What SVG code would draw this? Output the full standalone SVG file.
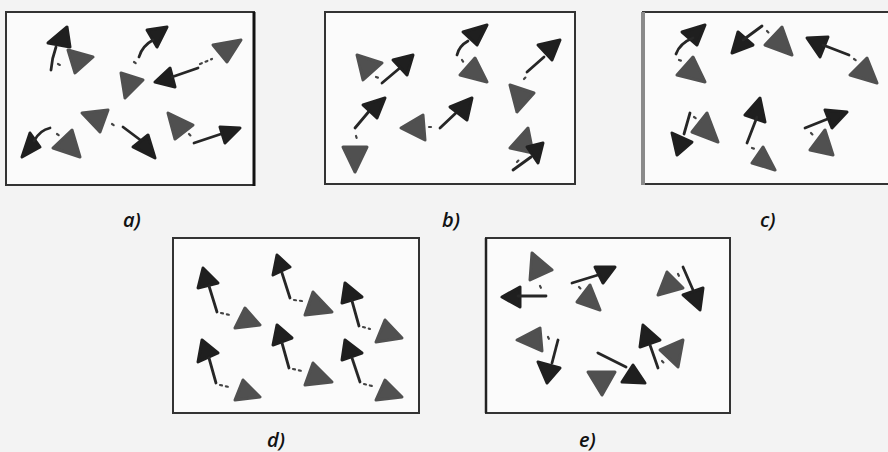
<svg xmlns="http://www.w3.org/2000/svg" width="888" height="452" viewBox="0 0 888 452">
<style>
.bg{fill:#f3f3f3}
.frame{fill:#fbfbfb;stroke:#333;stroke-width:2}
.dk{fill:#1f1f1f;stroke:#1f1f1f;stroke-width:3;stroke-linejoin:round}
.gr{fill:#505050;stroke:#505050;stroke-width:3;stroke-linejoin:round}
.ln{fill:none;stroke:#262626;stroke-width:2.8;stroke-linecap:round}
.dt{fill:none;stroke:#444;stroke-width:2.2;stroke-dasharray:2 4;stroke-linecap:round}
.lbl{font-family:"Open Sans","DejaVu Sans",sans-serif;font-style:italic;font-size:20px;font-weight:600;fill:#111}
</style>
<rect class="bg" x="0" y="0" width="888" height="452"/>

<g id="panel-a">
<rect class="frame" x="6" y="12" width="248" height="173"/>
<line x1="254" y1="12" x2="254" y2="186" stroke="#111" stroke-width="3"/>
<polygon class="dk" points="48,43 67,27 70,47"/>
<path class="ln" d="M56,47 Q52,58 51,70"/>
<path class="dt" d="M58,64 L62,66"/>
<polygon class="gr" points="68,50 93,57 75,73"/>
<polygon class="dk" points="147,30 167,27 157,47"/>
<path class="ln" d="M153,40 Q142,46 139,57"/>
<path class="dt" d="M134,62 L137,64"/>
<polygon class="gr" points="121,73 143,80 125,98"/>
<polygon class="gr" points="213,45 241,40 227,62"/>
<path class="dt" d="M200,64 L212,59"/>
<polygon class="dk" points="155,82 170,68 175,87"/>
<path class="ln" d="M172,77 L198,68"/>
<polygon class="gr" points="82,113 108,110 100,132"/>
<path class="dt" d="M112,124 L115,126"/>
<path class="ln" d="M123,127 L143,142"/>
<polygon class="dk" points="133,147 148,135 155,158"/>
<polygon class="dk" points="22,157 30,133 40,147"/>
<path class="ln" d="M50,128 Q40,130 34,141"/>
<path class="dt" d="M57,134 L60,136"/>
<polygon class="gr" points="53,148 72,130 80,157"/>
<polygon class="gr" points="168,113 193,125 175,139"/>
<path class="dt" d="M189,134 L191,136"/>
<path class="ln" d="M194,143 L224,133"/>
<polygon class="dk" points="220,127 240,128 225,143"/>
</g>

<g id="panel-b">
<rect class="frame" x="325" y="12" width="250" height="172"/>
<polygon class="gr" points="357,55 382,63 363,80"/>
<path class="dt" d="M376,77 L379,78"/>
<path class="ln" d="M382,83 L401,67"/>
<polygon class="dk" points="393,60 413,55 407,75"/>
<polygon class="dk" points="463,32 487,25 477,45"/>
<path class="ln" d="M468,41 Q459,46 457,55"/>
<path class="dt" d="M462,60 L464,63"/>
<polygon class="gr" points="460,75 475,58 487,82"/>
<path class="ln" d="M527,72 L544,57"/>
<polygon class="dk" points="538,45 560,40 552,60"/>
<path class="dt" d="M524,79 L526,77"/>
<polygon class="gr" points="510,85 534,93 517,112"/>
<path class="ln" d="M355,128 L371,109"/>
<polygon class="dk" points="363,105 385,98 377,118"/>
<path class="dt" d="M356,136 L357,139"/>
<polygon class="gr" points="343,147 367,147 355,172"/>
<polygon class="gr" points="401,128 423,115 425,140"/>
<path class="dt" d="M429,127 L432,127"/>
<path class="ln" d="M440,128 L458,111"/>
<polygon class="dk" points="450,107 472,98 467,120"/>
<polygon class="gr" points="510,148 528,128 533,153"/>
<polygon class="dk" points="527,147 543,143 538,163"/>
<path class="ln" d="M513,170 L531,157"/>
<path class="dt" d="M517,162 L519,160"/>
</g>

<g id="panel-c">
<rect class="frame" x="643" y="12" width="250" height="172"/>
<line x1="643" y1="12" x2="643" y2="185" stroke="#8a8a8a" stroke-width="4"/>
<polygon class="dk" points="682,32 705,25 697,45"/>
<path class="ln" d="M693,38 Q680,43 676,54"/>
<path class="dt" d="M679,60 L682,61"/>
<polygon class="gr" points="677,75 693,57 705,82"/>
<polygon class="dk" points="732,53 738,32 753,45"/>
<path class="ln" d="M743,40 L762,26"/>
<path class="dt" d="M767,31 L770,34"/>
<polygon class="gr" points="765,45 782,27 792,55"/>
<polygon class="dk" points="807,38 828,37 820,57"/>
<path class="ln" d="M823,45 L849,55"/>
<path class="dt" d="M854,59 L857,61"/>
<polygon class="gr" points="850,75 867,58 877,83"/>
<path class="ln" d="M690,113 L684,134"/>
<polygon class="dk" points="672,133 692,142 677,155"/>
<path class="dt" d="M694,117 L697,119"/>
<polygon class="gr" points="692,132 707,113 718,142"/>
<polygon class="dk" points="745,115 760,98 765,122"/>
<path class="ln" d="M757,117 L747,143"/>
<path class="dt" d="M752,148 L755,149"/>
<polygon class="gr" points="752,163 763,147 775,170"/>
<path class="ln" d="M805,128 L830,118"/>
<polygon class="dk" points="825,110 847,112 832,128"/>
<path class="dt" d="M811,133 L813,135"/>
<polygon class="gr" points="810,150 825,130 833,155"/>
</g>

<g id="panel-d">
<rect class="frame" x="173" y="238" width="246" height="175"/>
<polygon class="dk" points="198,288 203,268 218,283"/>
<path class="ln" d="M209,286 L217,312"/>
<path class="dt" d="M221,313 L230,315"/>
<polygon class="gr" points="235,328 245,308 260,325"/>
<polygon class="dk" points="273,275 277,255 290,267"/>
<path class="ln" d="M282,273 L290,298"/>
<path class="dt" d="M294,300 L302,301"/>
<polygon class="gr" points="305,315 313,292 332,312"/>
<polygon class="dk" points="342,303 345,283 362,297"/>
<path class="ln" d="M352,301 L359,326"/>
<path class="dt" d="M363,327 L370,329"/>
<polygon class="gr" points="376,342 385,320 402,338"/>
<polygon class="dk" points="198,362 202,340 218,353"/>
<path class="ln" d="M209,358 L216,383"/>
<path class="dt" d="M220,385 L229,387"/>
<polygon class="gr" points="235,400 243,380 260,397"/>
<polygon class="dk" points="273,345 277,325 292,338"/>
<path class="ln" d="M282,343 L289,368"/>
<path class="dt" d="M293,369 L302,371"/>
<polygon class="gr" points="305,385 313,363 332,382"/>
<polygon class="dk" points="342,360 345,340 362,353"/>
<path class="ln" d="M352,358 L360,382"/>
<path class="dt" d="M364,384 L372,386"/>
<polygon class="gr" points="376,400 385,380 402,397"/>
</g>

<g id="panel-e">
<rect class="frame" x="486" y="238" width="244" height="175"/>
<line x1="486" y1="238" x2="486" y2="413" stroke="#222" stroke-width="2.5"/>
<polygon class="gr" points="530,280 532,253 552,270"/>
<path class="dt" d="M540,286 L541,288"/>
<polygon class="dk" points="502,297 520,287 520,307"/>
<path class="ln" d="M518,296 L546,296"/>
<path class="ln" d="M572,283 L598,275"/>
<polygon class="dk" points="595,267 615,267 603,283"/>
<path class="dt" d="M579,287 L581,289"/>
<polygon class="gr" points="577,302 590,285 600,310"/>
<polygon class="gr" points="658,295 667,272 683,288"/>
<path class="dt" d="M678,274 L679,276"/>
<path class="ln" d="M683,267 L693,290"/>
<polygon class="dk" points="683,295 703,288 700,310"/>
<polygon class="gr" points="517,340 540,328 542,351"/>
<path class="dt" d="M548,337 L549,339"/>
<path class="ln" d="M558,340 L552,363"/>
<polygon class="dk" points="538,362 560,368 547,383"/>
<polygon class="dk" points="640,347 643,325 660,340"/>
<path class="ln" d="M650,345 L658,368"/>
<path class="dt" d="M662,361 L664,363"/>
<polygon class="gr" points="660,350 683,340 678,367"/>
<path class="ln" d="M598,353 L626,367"/>
<polygon class="dk" points="622,382 633,365 645,383"/>
<polygon class="gr" points="588,372 615,372 602,395"/>
</g>

<g id="labels">
<text class="lbl" x="123" y="227">a)</text>
<text class="lbl" x="442" y="227">b)</text>
<text class="lbl" x="760" y="227">c)</text>
<text class="lbl" x="267" y="447">d)</text>
<text class="lbl" x="579" y="447">e)</text>
</g>
</svg>
